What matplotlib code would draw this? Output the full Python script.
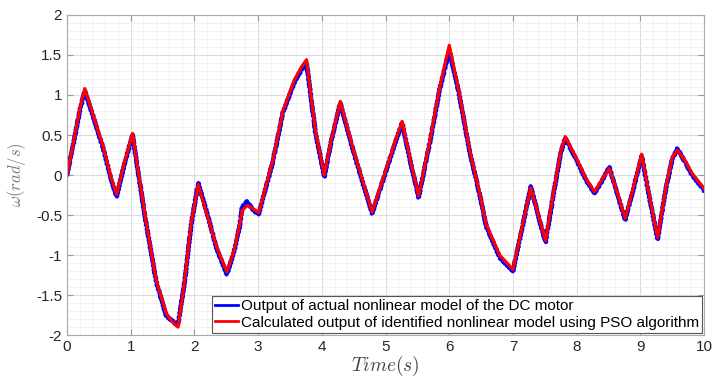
import matplotlib
matplotlib.use("Agg")
import matplotlib.pyplot as plt
from matplotlib.ticker import MultipleLocator

plt.rcParams['font.family'] = ['Liberation Sans', 'DejaVu Sans']
plt.rcParams['mathtext.fontset'] = 'cm'
plt.rcParams['axes.unicode_minus'] = False

# time samples (s)
t = [0, 0.1, 0.2, 0.28, 0.4, 0.57, 0.7, 0.78, 0.9, 1.03, 1.14, 1.25, 1.4, 1.56, 1.68,
     1.745, 1.85, 1.95, 2.06, 2.2, 2.35, 2.51, 2.62, 2.71, 2.75, 2.83, 2.92, 3.01, 3.1,
     3.23, 3.39, 3.57, 3.68, 3.76, 3.9, 4.04, 4.15, 4.29, 4.5, 4.79, 5.0, 5.15, 5.26,
     5.4, 5.52, 5.7, 5.85, 6.0, 6.15, 6.32, 6.47, 6.58, 6.79, 7.0, 7.15, 7.28, 7.4,
     7.51, 7.65, 7.75, 7.82, 8.0, 8.15, 8.28, 8.4, 8.51, 8.65, 8.76, 8.9, 9.02, 9.15,
     9.27, 9.4, 9.5, 9.58, 9.7, 9.81, 10.0]

# identified model (PSO)
w_pso = [0.0, 0.40, 0.82, 1.08, 0.78, 0.35, -0.05, -0.24, 0.15, 0.52, -0.06, -0.62,
         -1.31, -1.73, -1.86, -1.9, -1.3, -0.6, -0.12, -0.5, -0.9, -1.21, -0.95, -0.62,
         -0.44, -0.38, -0.42, -0.47, -0.2, 0.18, 0.8, 1.19, 1.35, 1.44, 0.55, 0.0, 0.45,
         0.92, 0.3, -0.46, 0.05, 0.42, 0.67, 0.15, -0.26, 0.45, 1.1, 1.62, 1.05, 0.31,
         -0.2, -0.62, -1.0, -1.18, -0.62, -0.16, -0.5, -0.82, -0.15, 0.3, 0.48, 0.2,
         -0.05, -0.21, -0.05, 0.08, -0.25, -0.54, -0.12, 0.26, -0.3, -0.78, -0.15, 0.22,
         0.31, 0.18, 0.02, -0.17]

# actual nonlinear model
w_act = [0.0, 0.38, 0.80, 1.05, 0.76, 0.33, -0.07, -0.27, 0.13, 0.50, -0.08, -0.64,
         -1.33, -1.76, -1.84, -1.86, -1.32, -0.62, -0.10, -0.48, -0.92, -1.24, -0.97, -0.64,
         -0.40, -0.33, -0.44, -0.49, -0.22, 0.16, 0.78, 1.16, 1.31, 1.41, 0.53, -0.02, 0.43,
         0.90, 0.28, -0.48, 0.03, 0.40, 0.65, 0.13, -0.28, 0.43, 1.07, 1.56, 1.03, 0.29,
         -0.22, -0.64, -1.03, -1.2, -0.64, -0.14, -0.52, -0.84, -0.17, 0.28, 0.46, 0.18,
         -0.07, -0.23, -0.07, 0.10, -0.27, -0.56, -0.14, 0.24, -0.32, -0.8, -0.17, 0.20,
         0.33, 0.16, 0.0, -0.19]

fig = plt.figure(figsize=(7.12, 3.83), dpi=100)
ax = fig.add_axes([0.094, 0.125, 0.895, 0.836])

l1, = ax.plot(t, w_act, color='#0000ff', lw=3.0, solid_joinstyle='round')
l1.set_sketch_params(scale=0.6, length=4, randomness=2)
ax.plot(t, w_pso, color='#ff0000', lw=2.3, solid_joinstyle='round')

# legend handles drawn clean
ax.plot([], [], color='#0000ff', lw=2.0, label='Output of actual nonlinear model of the DC motor')
ax.plot([], [], color='#ff0000', lw=2.0,
        label='Calculated output of identified nonlinear model using PSO algorithm')

ax.set_xlim(0, 10)
ax.set_ylim(-2, 2)
ax.xaxis.set_major_locator(MultipleLocator(1))
ax.xaxis.set_minor_locator(MultipleLocator(0.2))
ax.yaxis.set_minor_locator(MultipleLocator(0.1))
ax.set_yticks([-2, -1.5, -1, -0.5, 0, 0.5, 1, 1.5, 2])
ax.set_yticklabels(['-2', '-1.5', '-1', '-0.5', '0', '0.5', '1', '1.5', '2'])

ax.grid(which='major', color='#dcdcdc', lw=0.8)
ax.grid(which='minor', color='#efefef', lw=0.6)
ax.set_axisbelow(True)
ax.tick_params(which='both', direction='in', top=True, right=True, colors='#999999',
               labelcolor='#262626', labelsize=11)
ax.tick_params(which='major', length=4)
ax.tick_params(which='minor', length=0)
for s in ax.spines.values():
    s.set_color('#aaaaaa')

ax.set_xlabel(r'$Time(s)$', fontsize=14, color='#444444', labelpad=0)
ax.set_ylabel(r'$\omega(rad/s)$', fontsize=12, color='#777777', labelpad=6)

leg = ax.legend(loc='lower right', fontsize=11, fancybox=False, framealpha=1,
                edgecolor='#555555', handlelength=1.5, handletextpad=0.2,
                borderpad=0.2, labelspacing=0.15, borderaxespad=0.15)
leg.get_frame().set_linewidth(0.8)

fig.savefig('out.png', dpi=100)
